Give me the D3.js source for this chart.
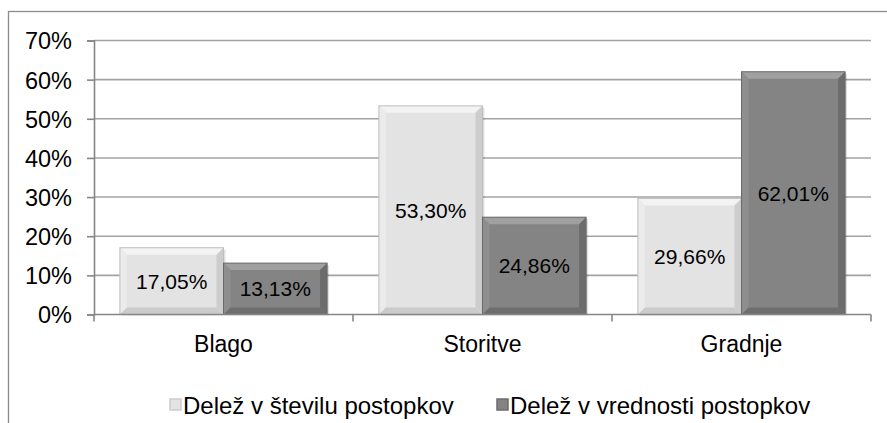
<!DOCTYPE html>
<html>
<head>
<meta charset="utf-8">
<script src="https://cdn.jsdelivr.net/npm/d3@7"></script>
<style>
  body { margin: 0; background: #fff; }
  text { font-family: "Liberation Sans", Arial, sans-serif; fill: #000; }
</style>
</head>
<body>
<svg id="chart" width="887" height="423"></svg>
<script>
'use strict';

// data
const categories = ['Blago', 'Storitve', 'Gradnje'];
const seriesNames = ['Delež v številu postopkov', 'Delež v vrednosti postopkov'];
const steviloValues = [17.05, 53.30, 29.66];
const vrednostValues = [13.13, 24.86, 62.01];
const yTicks = [0, 10, 20, 30, 40, 50, 60, 70];

(function () {
    const svg = d3.select('#chart');
    const left = 94, right = 871, top = 40.5, bottom = 314.5;

    // palette for the bevelled bars: base, top, left, right, bottom
    const looks = [
        { base: '#e3e3e3', top: '#f3f3f3', l: '#ebebeb', r: '#cdcdcd', b: '#cbcbcb', stroke: '#bdbdbd' },
        { base: '#848484', top: '#a0a0a0', l: '#8e8e8e', r: '#6c6c6c', b: '#6e6e6e', stroke: '#6a6a6a' }
    ];

    // outer frame
    svg.append('rect')
        .attr('x', 8.5).attr('y', 11.5)
        .attr('width', 1000).attr('height', 600)
        .attr('fill', 'none').attr('stroke', '#8c8c8c').attr('stroke-width', 1.3);

    const y = d3.scaleLinear().domain([0, 70]).range([bottom, top]);
    const x0 = d3.scaleBand().domain(categories).range([left, right]);
    const gap = x0.bandwidth() * 0.1;
    const x1 = d3.scaleBand().domain([0, 1]).range([gap, x0.bandwidth() - gap]);

    // gridlines
    svg.append('g').selectAll('line')
        .data(yTicks.slice(1))
        .enter().append('line')
        .attr('x1', left).attr('x2', right)
        .attr('y1', d => y(d)).attr('y2', d => y(d))
        .attr('stroke', '#a3a3a3').attr('stroke-width', 1.6);

    // y axis
    const yAxis = svg.append('g')
        .attr('transform', 'translate(' + left + ',0)')
        .call(d3.axisLeft(y).tickValues(yTicks).tickSize(7).tickPadding(15)
            .tickFormat(d => d + '%'));
    yAxis.select('.domain').attr('stroke', '#868686').attr('stroke-width', 1.6);
    yAxis.selectAll('.tick line').attr('stroke', '#868686').attr('stroke-width', 1.6);
    yAxis.selectAll('.tick text')
        .attr('font-size', 23.5).attr('font-family', '"Liberation Sans", Arial, sans-serif')
        .attr('dy', '0.36em');

    // bars
    const rows = categories.map((c, i) => ({ cat: c, vals: [steviloValues[i], vrednostValues[i]] }));
    const groups = svg.append('g').selectAll('g')
        .data(rows)
        .enter().append('g')
        .attr('transform', d => 'translate(' + x0(d.cat) + ',0)');

    const bars = groups.selectAll('g.bar')
        .data(d => d.vals.map((v, s) => ({ v: v, s: s })))
        .enter().append('g').attr('class', 'bar');

    bars.each(function (d) {
        const g = d3.select(this);
        const lk = looks[d.s];
        const bx = x1(d.s), bw = x1.bandwidth();
        const by = y(d.v), bh = y(0) - y(d.v);
        const bv = Math.min(7, bh / 2);
        // shadow
        g.append('rect')
            .attr('x', bx + 2).attr('y', by + 2).attr('width', bw).attr('height', bh - 1)
            .attr('fill', '#000').attr('opacity', 0.12);
        g.append('rect')
            .attr('x', bx).attr('y', by).attr('width', bw).attr('height', bh)
            .attr('fill', lk.base);
        const poly = (pts, fill) => g.append('polygon')
            .attr('points', pts.map(p => p.join(',')).join(' '))
            .attr('fill', fill);
        poly([[bx, by], [bx + bw, by], [bx + bw - bv, by + bv], [bx + bv, by + bv]], lk.top);
        poly([[bx, by], [bx + bv, by + bv], [bx + bv, by + bh - bv], [bx, by + bh]], lk.l);
        poly([[bx + bw, by], [bx + bw, by + bh], [bx + bw - bv, by + bh - bv], [bx + bw - bv, by + bv]], lk.r);
        poly([[bx, by + bh], [bx + bv, by + bh - bv], [bx + bw - bv, by + bh - bv], [bx + bw, by + bh]], lk.b);
        g.append('rect')
            .attr('x', bx).attr('y', by).attr('width', bw).attr('height', bh)
            .attr('fill', 'none').attr('stroke', lk.stroke).attr('stroke-width', 1);
        g.append('text')
            .attr('x', bx + bw / 2).attr('y', by + bh / 2)
            .attr('dy', '0.36em')
            .attr('text-anchor', 'middle')
            .attr('font-size', 21)
            .text(d3.format('.2f')(d.v).replace('.', ',') + '%');
    });

    // x axis
    svg.append('line')
        .attr('x1', left).attr('x2', right)
        .attr('y1', bottom).attr('y2', bottom)
        .attr('stroke', '#868686').attr('stroke-width', 1.6);
    svg.append('g').selectAll('line')
        .data(categories.map(c => x0(c) + x0.bandwidth()))
        .enter().append('line')
        .attr('x1', d => d).attr('x2', d => d)
        .attr('y1', bottom).attr('y2', bottom + 7)
        .attr('stroke', '#868686').attr('stroke-width', 1.6);
    svg.append('line')
        .attr('x1', left).attr('x2', left)
        .attr('y1', bottom).attr('y2', bottom + 7)
        .attr('stroke', '#868686').attr('stroke-width', 1.6);

    svg.append('g').selectAll('text')
        .data(categories)
        .enter().append('text')
        .attr('x', d => x0(d) + x0.bandwidth() / 2)
        .attr('y', 352)
        .attr('text-anchor', 'middle')
        .attr('font-size', 23)
        .text(d => d);

    // legend
    const legendX = [170, 497];
    const legend = svg.append('g').selectAll('g')
        .data(seriesNames)
        .enter().append('g')
        .attr('transform', (d, i) => 'translate(' + legendX[i] + ',399)');
    legend.append('rect')
        .attr('width', 11).attr('height', 11)
        .attr('fill', (d, i) => looks[i].base)
        .attr('stroke', (d, i) => looks[i].r).attr('stroke-width', 1.5);
    legend.append('text')
        .attr('x', 13).attr('y', 15)
        .attr('font-size', 24)
        .text(d => d);
})();
</script>
</body>
</html>
